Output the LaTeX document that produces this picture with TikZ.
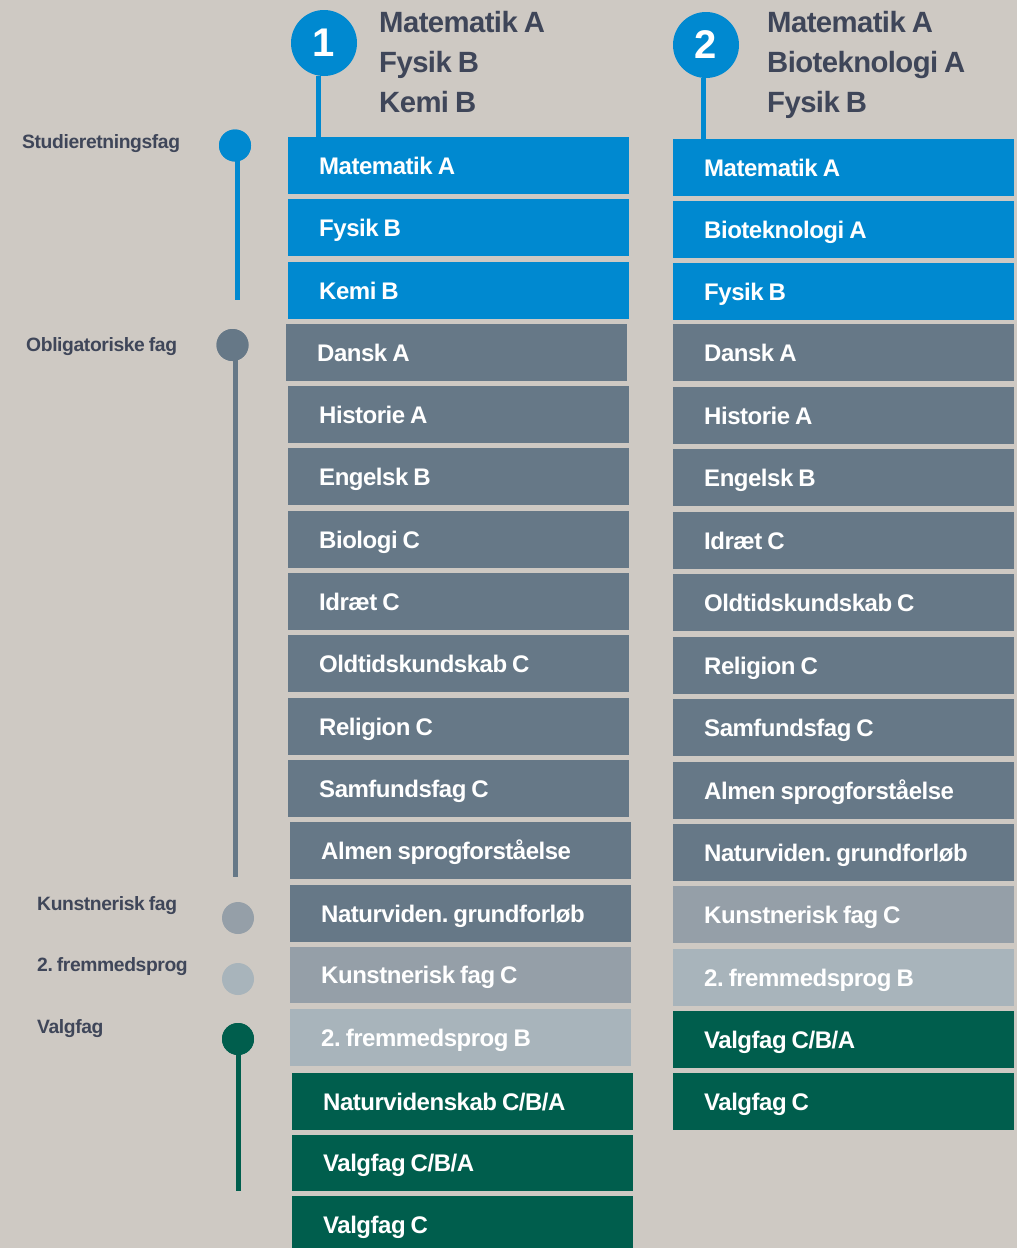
\documentclass[tikz,border=0pt]{standalone}
\usepackage{fontspec}
\setmainfont{Liberation Sans}[LetterSpace=-2,WordSpace=0.8]
\definecolor{bgc}{HTML}{CEC9C3}
\definecolor{cblue}{HTML}{0089D0}
\definecolor{cslate}{HTML}{667887}
\definecolor{ckunst}{HTML}{959FA8}
\definecolor{cfremd}{HTML}{A8B4BB}
\definecolor{cgreen}{HTML}{005E4D}
\definecolor{ctext}{HTML}{3F4659}
\tikzset{
  subj/.style={rectangle, anchor=north west, minimum width=341pt, minimum height=56.5pt,
    inner xsep=31pt, inner ysep=0pt, text width=279pt, align=left, text height=17.2pt, text depth=0pt,
    font=\fontsize{24}{24}\selectfont\bfseries, text=white,
    execute at begin node={\spaceskip=0.21em\relax}},
  head/.style={anchor=base west, inner sep=0pt, text=ctext, font=\fontsize{29.3}{29.3}\selectfont\bfseries},
  lab/.style={anchor=base west, inner sep=0pt, text=ctext, font=\fontsize{19.3}{19.3}\selectfont\bfseries},
  bignum/.style={circle, minimum size=66pt, inner sep=0pt, fill=cblue, text=white, font=\fontsize{40}{40}\selectfont\bfseries},
  dot/.style={circle, minimum size=32pt, inner sep=0pt},
  conn/.style={line width=5pt}
}
\begin{document}
\frenchspacing
\begin{tikzpicture}[x=1pt,y=-1pt]
\useasboundingbox (0,0) rectangle (1017,1248);
\fill[bgc] (0,0) rectangle (1017,1248);

% left legend
\node[lab] (l1) at (22,148) {Studieretningsfag};
\node[lab] (l2) at (26,351) {Obligatoriske fag};
\node[lab] (l3) at (37,910) {Kunstnerisk fag};
\node[lab] (l4) at (37,971) {2. fremmedsprog};
\node[lab] (l5) at (37,1033) {Valgfag};

\coordinate (e1) at (237,300);
\coordinate (e2) at (235,877);
\coordinate (e5) at (238,1191);
\node[dot, fill=cblue] (d1) at (235,145.5) {};
\node[dot, fill=cslate] (d2) at (232.5,345) {};
\node[dot, fill=ckunst] (d3) at (238,918) {};
\node[dot, fill=cfremd] (d4) at (238,979) {};
\node[dot, fill=cgreen] (d5) at (238,1039) {};
\draw[conn, cblue] (d1.center -| e1) -- (e1);
\draw[conn, cslate] (d2.center -| e2) -- (e2);
\draw[conn, cgreen] (d5.center -| e5) -- (e5);
\node[dot, fill=cblue] at (d1) {};
\node[dot, fill=cslate] at (d2) {};
\node[dot, fill=cgreen] at (d5) {};

% column 1
\node[head] (h1a) at (379,32) {Matematik A};
\node[head] (h1b) at (379,72) {Fysik B};
\node[head] (h1c) at (379,112) {Kemi B};

\node[subj, fill=cblue]  (a1)  at (288,137) {Matematik A};
\node[subj, fill=cblue]  (a2)  at (288,199) {Fysik B};
\node[subj, fill=cblue]  (a3)  at (288,262) {Kemi B};
\node[subj, fill=cslate] (a4)  at (286,324) {Dansk A};
\node[subj, fill=cslate] (a5)  at (288,386) {Historie A};
\node[subj, fill=cslate] (a6)  at (288,448) {Engelsk B};
\node[subj, fill=cslate] (a7)  at (288,511) {Biologi C};
\node[subj, fill=cslate] (a8)  at (288,573) {Idræt C};
\node[subj, fill=cslate] (a9)  at (288,635) {Oldtidskundskab C};
\node[subj, fill=cslate] (a10) at (288,698) {Religion C};
\node[subj, fill=cslate] (a11) at (288,760) {Samfundsfag C};
\node[subj, fill=cslate] (a12) at (290,822) {\mbox{Almen sprogforståelse}};
\node[subj, fill=cslate] (a13) at (290,885) {\mbox{Naturviden. grundforløb}};
\node[subj, fill=ckunst] (a14) at (290,946.5) {Kunstnerisk fag C};
\node[subj, fill=cfremd] (a15) at (290,1009) {2. fremmedsprog B};
\node[subj, fill=cgreen] (a16) at (292,1073) {\mbox{Naturvidenskab C/B/A}};
\node[subj, fill=cgreen] (a17) at (292,1134.5) {Valgfag C/B/A};
\node[subj, fill=cgreen] (a18) at (292,1196) {Valgfag C};

\node[bignum] (c1) at (324,43) {1};
\draw[conn, cblue] ([xshift=-5.5pt]c1.south) -- ([xshift=-5.5pt]c1.south |- a1.north);

% column 2
\node[head] (h2a) at (767,32) {Matematik A};
\node[head] (h2b) at (767,72) {Bioteknologi A};
\node[head] (h2c) at (767,112) {Fysik B};

\node[subj, fill=cblue]  (b1)  at (673,139) {Matematik A};
\node[subj, fill=cblue]  (b2)  at (673,201) {Bioteknologi A};
\node[subj, fill=cblue]  (b3)  at (673,263) {Fysik B};
\node[subj, fill=cslate] (b4)  at (673,324) {Dansk A};
\node[subj, fill=cslate] (b5)  at (673,387) {Historie A};
\node[subj, fill=cslate] (b6)  at (673,449) {Engelsk B};
\node[subj, fill=cslate] (b7)  at (673,512) {Idræt C};
\node[subj, fill=cslate] (b8)  at (673,574) {Oldtidskundskab C};
\node[subj, fill=cslate] (b9)  at (673,637) {Religion C};
\node[subj, fill=cslate] (b10) at (673,699) {Samfundsfag C};
\node[subj, fill=cslate] (b11) at (673,762) {\mbox{Almen sprogforståelse}};
\node[subj, fill=cslate] (b12) at (673,824) {\mbox{Naturviden. grundforløb}};
\node[subj, fill=ckunst] (b13) at (673,886) {Kunstnerisk fag C};
\node[subj, fill=cfremd] (b14) at (673,949) {2. fremmedsprog B};
\node[subj, fill=cgreen] (b15) at (673,1011) {Valgfag C/B/A};
\node[subj, fill=cgreen] (b16) at (673,1073) {Valgfag C};

\node[bignum] (c2) at (706,45) {2};
\draw[conn, cblue] ([xshift=-2.5pt]c2.south) -- ([xshift=-2.5pt]c2.south |- b1.north);
\end{tikzpicture}
\end{document}
